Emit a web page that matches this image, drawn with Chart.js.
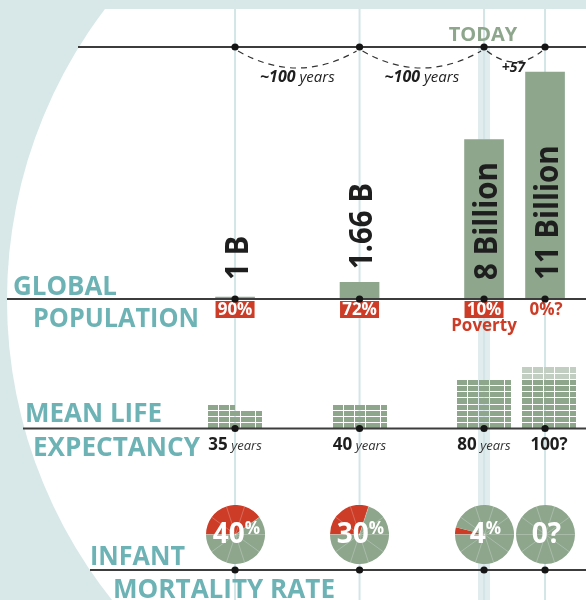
<!DOCTYPE html>
<html><head><meta charset="utf-8">
<script src="https://cdn.jsdelivr.net/npm/chart.js@4/dist/chart.umd.min.js"></script>
<style>
html,body{margin:0;padding:0;background:#fff;}
#wrap{position:relative;width:586px;height:600px;overflow:hidden;}
#main{position:absolute;left:0;top:0;}
.pie{position:absolute;}
</style></head><body>
<div id="wrap"><canvas id="main" width="586" height="600"></canvas></div>
<script>
// ---- data ----
const columnPos = [1800, 1900, 2000, 2049];          // schematic timeline positions
const gapNumbers = ['~100', '~100', '+57'];
const gapUnits = ['years', 'years', ''];
const todayIndex = 2;
const popValues = [1, 1.66, 8, 11];                   // billions
const popLabels = ['1 B', '1.66 B', '8 Billion', '11 Billion'];
const povertyPct = [90, 72, 10, 0];
const povertyLabels = ['90%', '72%', '10%', '0%?'];
const lifeYears = [35, 40, 80, 100];
const lifeKnown = [35, 40, 80, 80];
const lifeNumbers = ['35', '40', '80', '100?'];
const lifeUnits = ['years', 'years', 'years', ''];
const infantPct = [40, 30, 4, 0];
const infantLabels = ['40', '30', '4', '0?'];
const infantUnits = ['%', '%', '%', ''];
const rowTitles = [['GLOBAL', 'POPULATION'], ['MEAN LIFE', 'EXPECTANCY'], ['INFANT', 'MORTALITY RATE']];

// ---- styles ----
const GREEN = '#8da68c', LIGHTGREEN = '#c3cec2', RED = '#cc3c26', TEAL = '#6db3b6', TEALBG = '#d8e8e9', INK = '#1e1e1e', LINE = '#3c3c3c';
const FF = "'Open Sans', sans-serif";
const popBase = 0.92;
const TIMELINE_Y = 47, INFANT_Y = 570;

const bgPlugin = {
  id: 'bg',
  beforeDraw(chart) {
    const ctx = chart.ctx, x = chart.scales.x;
    ctx.save();
    ctx.fillStyle = TEALBG; ctx.fillRect(0, 0, 586, 600);
    ctx.beginPath(); ctx.rect(0, 9, 586, 591); ctx.clip();
    ctx.beginPath(); ctx.arc(488, 300, 481, 0, Math.PI * 2); ctx.fillStyle = '#fff'; ctx.fill();
    ctx.restore();
    ctx.save();
    const tx = x.getPixelForValue(columnPos[todayIndex]);
    ctx.fillStyle = '#e0ecee'; ctx.fillRect(tx - 6, TIMELINE_Y, 12, 600 - TIMELINE_Y);
    ctx.strokeStyle = '#d3e5e7'; ctx.lineWidth = 2;
    columnPos.forEach(p => { const px = x.getPixelForValue(p); ctx.beginPath(); ctx.moveTo(px, 9); ctx.lineTo(px, 600); ctx.stroke(); });
    ctx.restore();
  }
};

function drawParts(ctx, parts, cx, y) {
  let total = 0;
  parts.forEach(p => { ctx.font = p.font; p.w = ctx.measureText(p.t).width; total += p.w; });
  let x = cx - total / 2;
  parts.forEach(p => { ctx.font = p.font; ctx.fillStyle = p.color; ctx.fillText(p.t, x, y + (p.dy || 0)); x += p.w; });
}

const overlayPlugin = {
  id: 'overlay',
  afterDatasetsDraw(chart) {
    const ctx = chart.ctx, xs = chart.scales.x, ys = chart.scales.y, yl = chart.scales.yLife;
    const cols = columnPos.map(p => xs.getPixelForValue(p));
    const popY = ys.getPixelForValue(popBase);
    const lifeY = yl.getPixelForValue(0);
    ctx.save();
    ctx.textAlign = 'left'; ctx.textBaseline = 'alphabetic';

    // life expectancy bricks
    const W = 54, cuts = [[0, 10], [11, 21], [22, 32], [33, 47], [48, 54]];
    lifeYears.forEach((v, i) => {
      const left = Math.round(cols[i] + (i === 3 ? 4 : 0) - W / 2);
      for (let r = 0; r * 10 < v; r++) {
        const bottom = Math.round(yl.getPixelForValue(r * 10));
        const top = Math.round(yl.getPixelForValue((r + 1) * 10)) + 1;
        const frac = Math.min(1, (v - r * 10) / 10);
        const wmax = W * frac;
        ctx.fillStyle = r * 10 >= lifeKnown[i] ? LIGHTGREEN : GREEN;
        cuts.forEach(([a, b]) => {
          if (a >= wmax) return;
          const bb = Math.min(b, wmax);
          ctx.fillRect(left + a, top, bb - a, bottom - top);
        });
      }
    });

    // poverty boxes
    popValues.forEach((v, i) => {
      const x = cols[i];
      ctx.font = 'bold 17px ' + FF; ctx.textAlign = 'center';
      if (povertyPct[i] > 0) {
        ctx.fillStyle = RED; ctx.fillRect(x - 19.5, popY + 2, 39, 17);
        ctx.fillStyle = '#fff';
        ctx.fillText(povertyLabels[i], x, popY + 16.5);
      } else {
        ctx.fillStyle = RED;
        ctx.fillText(povertyLabels[i], x + 1, popY + 16.5);
      }
      ctx.textAlign = 'left';
    });
    ctx.fillStyle = RED; ctx.font = 'bold 17px ' + FF; ctx.textAlign = 'center';
    ctx.fillText('Poverty', cols[todayIndex], popY + 32);
    ctx.textAlign = 'left';

    // horizontal lines
    ctx.strokeStyle = LINE; ctx.lineWidth = 2;
    [[78, TIMELINE_Y], [7, popY], [23, lifeY], [90, INFANT_Y]].forEach(([x0, y]) => {
      ctx.beginPath(); ctx.moveTo(x0, y); ctx.lineTo(586, y); ctx.stroke();
    });

    // dashed arcs between timeline dots
    ctx.setLineDash([6, 5]); ctx.lineWidth = 1.2; ctx.strokeStyle = '#333';
    for (let i = 0; i < cols.length - 1; i++) {
      const a = cols[i] + 3, b = cols[i + 1] - 3, span = b - a;
      const sag = span > 90 ? 38 : 26;
      ctx.beginPath(); ctx.moveTo(a, TIMELINE_Y + 4);
      ctx.quadraticCurveTo((a + b) / 2, TIMELINE_Y + sag, b, TIMELINE_Y + 4); ctx.stroke();
    }
    ctx.setLineDash([]);
    for (let i = 0; i < cols.length - 1; i++) {
      const mid = (cols[i] + cols[i + 1]) / 2;
      if (gapUnits[i]) {
        drawParts(ctx, [{ t: gapNumbers[i], font: 'italic bold 16px ' + FF, color: INK },
                        { t: ' ' + gapUnits[i], font: 'italic 15px ' + FF, color: INK }], mid, 82);
      } else {
        drawParts(ctx, [{ t: gapNumbers[i], font: 'italic bold 14px ' + FF, color: INK }], mid - 1, 72);
      }
    }

    // dots
    ctx.fillStyle = '#151515';
    cols.forEach(x => {
      [TIMELINE_Y, popY, lifeY, INFANT_Y].forEach(y => { ctx.beginPath(); ctx.arc(x, y, 3.6, 0, Math.PI * 2); ctx.fill(); });
    });

    // TODAY
    ctx.fillStyle = GREEN; ctx.font = 'bold 20px ' + FF; ctx.textAlign = 'center';
    ctx.fillText('TODAY', cols[todayIndex] - 1, 41);
    ctx.textAlign = 'left';

    // rotated population labels
    const meta = chart.getDatasetMeta(0);
    popValues.forEach((v, i) => {
      const bar = meta.data[i];
      const topY = ys.getPixelForValue(v);
      const start = (popY - topY > 60) ? popY - 19 : Math.min(popY - 19, topY - 13);
      ctx.save();
      ctx.translate(bar.x + 12.5, start);
      ctx.rotate(-Math.PI / 2);
      ctx.scale(0.92, 1);
      ctx.fillStyle = INK; ctx.font = 'bold 32px ' + FF;
      ctx.fillText(popLabels[i], 0, 0);
      ctx.restore();
    });

    // life labels
    lifeYears.forEach((v, i) => {
      const parts = [{ t: lifeNumbers[i], font: 'bold 17px ' + FF, color: INK }];
      if (lifeUnits[i]) parts.push({ t: ' ' + lifeUnits[i], font: 'italic 13px ' + FF, color: '#333' });
      drawParts(ctx, parts, cols[i] + (i === 3 ? 4 : 0), lifeY + 21.5);
    });

    // row titles
    ctx.fillStyle = TEAL; ctx.font = 'bold 27px ' + FF;
    const titlePos = [[13, 295, 104], [33, 326.5, 166], [25, 422, 137], [33, 456, 167], [90, 565, 95], [113, 597.5, 222]];
    const flat = rowTitles.flat();
    flat.forEach((t, k) => { const [x, y, w] = titlePos[k]; ctx.fillText(t, x, y, w); });
    ctx.restore();
  }
};

const chart = new Chart(document.getElementById('main'), {
  type: 'bar',
  data: {
    datasets: [{
      data: popValues.map((v, i) => ({ x: columnPos[i], y: [popBase, v] })),
      backgroundColor: GREEN, borderWidth: 0, barThickness: 39
    }]
  },
  options: {
    responsive: false, animation: false, devicePixelRatio: 1, events: [],
    layout: { padding: 0 },
    plugins: { legend: { display: false }, tooltip: { enabled: false } },
    scales: {
      x: { type: 'linear', display: false, min: 1611.2, max: 2081.9, offset: false, bounds: 'data' },
      y: { type: 'linear', display: false, min: -12.446, max: 14.197, bounds: 'data' },
      yLife: { type: 'linear', axis: 'y', display: false, min: -276.6, max: 691.1, bounds: 'data' }
    }
  },
  plugins: [bgPlugin, overlayPlugin]
});

// infant mortality pies
const wrap = document.getElementById('wrap');
infantPct.forEach((v, i) => {
  const cx = chart.scales.x.getPixelForValue(columnPos[i]);
  const cy = INFANT_Y - 36;
  const R = 29.5;
  const cv = document.createElement('canvas');
  cv.width = 59; cv.height = 59; cv.className = 'pie';
  cv.style.left = (cx - R) + 'px'; cv.style.top = (cy - R) + 'px';
  wrap.appendChild(cv);
  new Chart(cv, {
    type: 'pie',
    data: { datasets: [{ data: [v, 100 - v], backgroundColor: [RED, GREEN], borderWidth: 0 }] },
    options: {
      responsive: false, animation: false, devicePixelRatio: 1, events: [], rotation: -90,
      layout: { padding: 0 },
      plugins: { legend: { display: false }, tooltip: { enabled: false } }
    },
    plugins: [{
      id: 'pieDeco',
      afterDatasetsDraw(c) {
        const ctx = c.ctx, arc = c.getDatasetMeta(0).data[1];
        const x = arc.x, y = arc.y, r = arc.outerRadius;
        ctx.save();
        ctx.strokeStyle = 'rgba(255,255,255,0.3)'; ctx.lineWidth = 0.8;
        for (let k = 0; k < 10; k++) {
          const a = Math.PI + k * Math.PI / 5;
          ctx.beginPath(); ctx.moveTo(x, y); ctx.lineTo(x + r * Math.cos(a), y + r * Math.sin(a)); ctx.stroke();
        }
        ctx.textAlign = 'left'; ctx.textBaseline = 'alphabetic';
        const parts = [{ t: infantLabels[i], font: 'bold 28px ' + FF, color: '#fff' }];
        if (infantUnits[i]) parts.push({ t: infantUnits[i], font: 'bold 17px ' + FF, color: '#fff', dy: -8.5 });
        drawParts(ctx, parts, x + 1, y + 8);
        ctx.restore();
      }
    }]
  });
});
</script>
</body></html>
